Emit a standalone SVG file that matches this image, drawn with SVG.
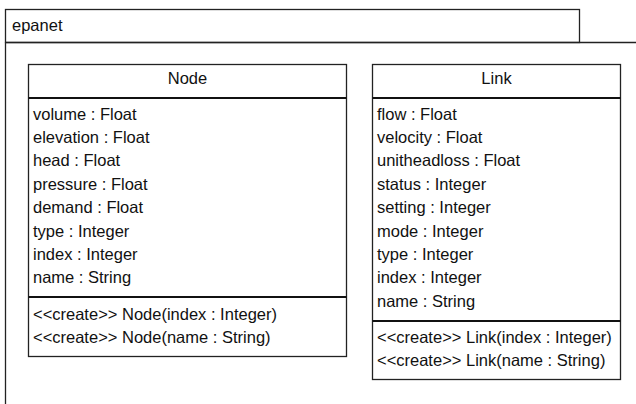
<svg xmlns="http://www.w3.org/2000/svg" width="636" height="404" viewBox="0 0 636 404">
  <style>
    .frame { fill: #ffffff; stroke: #222222; stroke-width: 1.3; }
    .line { fill: none; stroke: #222222; stroke-width: 1.3; }
    .sep { fill: none; stroke: #111111; stroke-width: 2.2; }
    text { font-family: "Liberation Sans", Arial, sans-serif; font-size: 16.5px; fill: #111111; }
    .title { text-anchor: middle; }
  </style>
  <rect width="636" height="404" fill="#ffffff"/>

  <!-- package frame -->
  <g id="package-epanet">
    <rect class="frame" x="5.5" y="9.5" width="574" height="33"/>
    <path class="line" d="M5.5 42.5 H636 M5.5 42.5 V404"/>
    <text x="12" y="31">epanet</text>
  </g>

  <!-- class Node -->
  <g id="node-Node">
    <rect class="frame" x="28.5" y="64.5" width="318" height="292"/>
    <path class="sep" d="M28.5 98 H346.5"/>
    <path class="sep" d="M28.5 297 H346.5"/>
    <text class="title" x="187.5" y="84">Node</text>
    <text x="33" y="119.5">volume : Float</text>
    <text x="33" y="142.9">elevation : Float</text>
    <text x="33" y="166.3">head : Float</text>
    <text x="33" y="189.7">pressure : Float</text>
    <text x="33" y="213.1">demand : Float</text>
    <text x="33" y="236.5">type : Integer</text>
    <text x="33" y="259.9">index : Integer</text>
    <text x="33" y="283.3">name : String</text>
    <text x="33" y="319.5">&lt;&lt;create&gt;&gt; Node(index : Integer)</text>
    <text x="33" y="342.9">&lt;&lt;create&gt;&gt; Node(name : String)</text>
  </g>

  <!-- class Link -->
  <g id="node-Link">
    <rect class="frame" x="372.5" y="64.5" width="248" height="315"/>
    <path class="sep" d="M372.5 98 H620.5"/>
    <path class="sep" d="M372.5 321 H620.5"/>
    <text class="title" x="496.5" y="84">Link</text>
    <text x="377" y="119.5">flow : Float</text>
    <text x="377" y="142.9">velocity : Float</text>
    <text x="377" y="166.3">unitheadloss : Float</text>
    <text x="377" y="189.7">status : Integer</text>
    <text x="377" y="213.1">setting : Integer</text>
    <text x="377" y="236.5">mode : Integer</text>
    <text x="377" y="259.9">type : Integer</text>
    <text x="377" y="283.3">index : Integer</text>
    <text x="377" y="306.7">name : String</text>
    <text x="377" y="343">&lt;&lt;create&gt;&gt; Link(index : Integer)</text>
    <text x="377" y="366.4">&lt;&lt;create&gt;&gt; Link(name : String)</text>
  </g>

  <g id="connectors"/>
</svg>
